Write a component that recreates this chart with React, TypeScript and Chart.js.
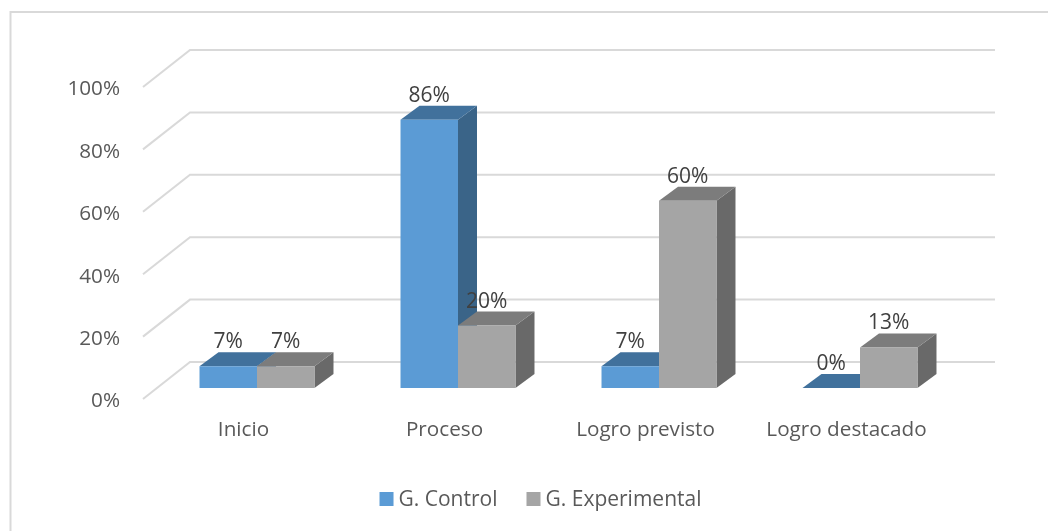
import React, { useEffect, useRef } from "react";
import { Chart, registerables } from "chart.js";

Chart.register(...registerables);

const categories = ["Inicio", "Proceso", "Logro previsto", "Logro destacado"];
const controlValues = [7, 86, 7, 0];
const experimentalValues = [7, 20, 60, 13];
const FONT = '"Open Sans", sans-serif';
const FONT_SIZE = 20.7;
const LABEL_SIZE = 21;

// Visual offsets of the pseudo-3D scene
const BAR_SHIFT = { x: 13.5, y: -11 };
const BAR_DEPTH = { x: 19, y: -14 };
const WALL = { x: 47, y: -37 };
const RIGHT_WALL_END = 995;

const faces = [
  { front: "#5b9bd5", top: "#41719c", side: "#3a6488" },
  { front: "#a5a5a5", top: "#7c7c7c", side: "#696969" },
];

const scene = {
  id: "scene3d",
  beforeDraw(chart: any) {
    const { ctx, width, height } = chart;
    ctx.save();
    ctx.fillStyle = "#ffffff";
    ctx.fillRect(0, 0, width, height);
    ctx.strokeStyle = "#d9d9d9";
    ctx.lineWidth = 2;
    ctx.beginPath();
    ctx.moveTo(10.5, 531);
    ctx.lineTo(10.5, 12);
    ctx.lineTo(1048, 12);
    ctx.stroke();
    ctx.restore();
  },
  beforeDatasetsDraw(chart: any) {
    const { ctx, chartArea, scales } = chart;
    ctx.save();
    ctx.strokeStyle = "#d9d9d9";
    ctx.lineWidth = 2;
    for (const tick of scales.y.ticks) {
      const y = scales.y.getPixelForValue(tick.value);
      ctx.beginPath();
      ctx.moveTo(chartArea.left, y);
      ctx.lineTo(chartArea.left + WALL.x, y + WALL.y);
      ctx.lineTo(RIGHT_WALL_END, y + WALL.y);
      ctx.stroke();
    }
    ctx.restore();

    // Blue series first, grey on top of its side face
    chart.data.datasets.forEach((_: any, i: number) => {
      const meta = chart.getDatasetMeta(i);
      const c = faces[i];
      ctx.save();
      ctx.translate(BAR_SHIFT.x, BAR_SHIFT.y);
      for (const bar of meta.data) {
        const l = bar.x - bar.width / 2;
        const r = bar.x + bar.width / 2;
        const t = bar.y;
        const b = bar.base;
        ctx.fillStyle = c.side;
        ctx.beginPath();
        ctx.moveTo(r, t);
        ctx.lineTo(r + BAR_DEPTH.x, t + BAR_DEPTH.y);
        ctx.lineTo(r + BAR_DEPTH.x, b + BAR_DEPTH.y);
        ctx.lineTo(r, b);
        ctx.closePath();
        ctx.fill();
        ctx.fillStyle = c.top;
        ctx.beginPath();
        ctx.moveTo(l, t);
        ctx.lineTo(l + BAR_DEPTH.x, t + BAR_DEPTH.y);
        ctx.lineTo(r + BAR_DEPTH.x, t + BAR_DEPTH.y);
        ctx.lineTo(r, t);
        ctx.closePath();
        ctx.fill();
      }
      meta.controller.draw();
      ctx.restore();
    });

    // Value labels above the top face
    ctx.save();
    ctx.font = `${LABEL_SIZE}px ${FONT}`;
    ctx.fillStyle = "#404040";
    ctx.textAlign = "center";
    ctx.textBaseline = "alphabetic";
    chart.data.datasets.forEach((ds: any, i: number) => {
      chart.getDatasetMeta(i).data.forEach((bar: any, j: number) => {
        ctx.fillText(`${ds.data[j]}%`, bar.x + BAR_SHIFT.x, bar.y + BAR_SHIFT.y + BAR_DEPTH.y - 4);
      });
    });
    ctx.restore();

    // Legend, with the tight box-to-text gap of the reference
    ctx.save();
    ctx.font = `${LABEL_SIZE}px ${FONT}`;
    ctx.textAlign = "left";
    ctx.textBaseline = "alphabetic";
    const boxSize = 14;
    const boxGap = 5;
    const itemGap = 29;
    const labels: string[] = chart.data.datasets.map((d: any) => d.label);
    const widths = labels.map((t) => ctx.measureText(t).width);
    const total = widths.reduce((a, w) => a + boxSize + boxGap + w, 0) + itemGap * (labels.length - 1);
    let x = 540.5 - total / 2;
    labels.forEach((t, i) => {
      ctx.fillStyle = chart.data.datasets[i].backgroundColor;
      ctx.fillRect(x, 492, boxSize, boxSize);
      ctx.fillStyle = "#595959";
      ctx.fillText(t, x + boxSize + boxGap, 506);
      x += boxSize + boxGap + widths[i] + itemGap;
    });
    ctx.restore();
    return false;
  },
};

export default function App() {
  const ref = useRef<HTMLCanvasElement>(null);
  useEffect(() => {
    const chart = new Chart(ref.current!, {
      type: "bar",
      data: {
        labels: categories,
        datasets: [
          { label: "G. Control", data: controlValues, backgroundColor: faces[0].front },
          { label: "G. Experimental", data: experimentalValues, backgroundColor: faces[1].front },
        ],
      },
      plugins: [scene],
      options: {
        animation: false,
        responsive: false,
        layout: { padding: { left: 0, right: 101, top: 87, bottom: 72 } },
        scales: {
          x: {
            grid: { display: false },
            border: { display: false },
            ticks: { font: { family: FONT, size: FONT_SIZE }, color: "#595959", padding: 11, maxRotation: 0 },
            afterFit: (s: any) => { s.height = 60; },
          },
          y: {
            min: 0,
            max: 100,
            grid: { display: false },
            border: { display: false },
            ticks: {
              stepSize: 20,
              font: { family: FONT, size: FONT_SIZE },
              color: "#595959",
              padding: 15,
              labelOffset: 2.5,
              callback: (v: any) => `${v}%`,
            },
            afterFit: (s: any) => { s.width = 143; },
          },
        },
        datasets: { bar: { categoryPercentage: 0.572, barPercentage: 1 } },
        plugins: {
          tooltip: { enabled: false },
          legend: { display: false },
        },
      } as any,
    });
    return () => chart.destroy();
  }, []);
  return (
    <canvas
      ref={ref}
      width={1048}
      height={531}
      style={{ position: "fixed", left: 0, top: 0, width: 1048, height: 531, display: "block" }}
    />
  );
}
